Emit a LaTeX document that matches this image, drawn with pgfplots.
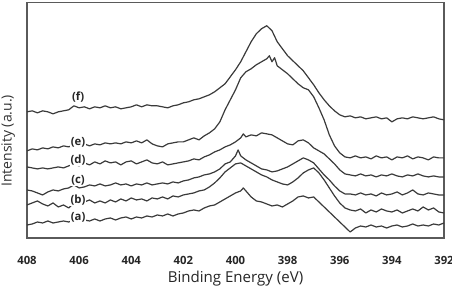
\documentclass[border=0pt]{standalone}
\usepackage{fontspec}
\setmainfont{Open Sans}
\usepackage{pgfplots}
\pgfplotsset{compat=1.18}
\definecolor{curve}{HTML}{3A3A3A}
\definecolor{frame}{HTML}{5A5A5A}
\begin{document}
\begin{tikzpicture}[spec/.style={curve, line width=0.9pt, line join=round, solid, mark=none}]
\begin{axis}[
  at={(0,0)}, anchor=south west,
  scale only axis, width=312.75pt, height=176.25pt,
  x dir=reverse, xmin=392, xmax=408, ymin=0, ymax=235,
  xtick={392,394,...,408}, ytick=\empty,
  major tick length=0pt,
  axis line style={frame, line width=1pt},
  /pgf/number format/assume math mode=true,
  /pgf/number format/1000 sep={},
  xticklabel style={font=\bfseries\fontsize{8.5}{10}\selectfont, anchor=center, yshift=-16.5pt, text=black!85},
  xlabel={Binding Energy (eV)},
  xlabel style={at={(axis description cs:0.5,-0.1872)}, anchor=base, font=\fontsize{11.3}{13}\selectfont, text=black!85},
  ylabel={Intensity (a.u.)},
  ylabel style={at={(axis description cs:-0.037,0.413)}, anchor=base, font=\fontsize{10.5}{12}\selectfont, text=black!80},
  clip=false,
]
% (f)
\addplot[spec] coordinates {(408,126)(407.8,127)(407.6,125)(407.4,127)(407.2,126)(407.0,124)(406.8,126)(406.6,127)(406.4,128)(406.2,132)(406.0,130)(405.8,131)(405.6,129)(405.4,131)(405.2,130)(405.0,132)(404.8,130)(404.6,131)(404.4,129)(404.2,130)(404.0,131)(403.8,133)(403.6,131)(403.4,133)(403.2,132)(403.0,132)(402.8,131)(402.6,130)(402.4,132)(402.2,133)(402.0,135)(401.8,136)(401.6,138)(401.4,139)(401.2,141)(401.0,143)(400.8,146)(400.6,150)(400.4,154)(400.2,161)(400.0,168)(399.8,176)(399.6,186)(399.4,196)(399.2,204)(399.0,209)(398.8,212)(398.6,207)(398.4,196)(398.2,189)(398.0,182)(397.8,177)(397.6,172)(397.4,167)(397.2,160)(397.0,153)(396.8,145)(396.6,138)(396.4,132)(396.2,127)(396.0,123)(395.8,121)(395.6,122)(395.4,120)(395.2,121)(395.0,119)(394.8,120)(394.6,121)(394.4,119)(394.2,120)(394.0,116)(393.8,119)(393.6,120)(393.4,119)(393.2,121)(393.0,120)(392.8,119)(392.6,120)(392.4,121)(392.2,119)(392.0,118)};
% (e)
\addplot[spec] coordinates {(408,87)(407.8,89)(407.6,88)(407.4,90)(407.2,89)(407.0,91)(406.8,90)(406.6,92)(406.4,91)(406.2,93)(406.0,92)(405.8,94)(405.6,92)(405.4,94)(405.2,93)(405.0,95)(404.8,94)(404.6,95)(404.4,94)(404.2,96)(404.0,95)(403.8,97)(403.6,95)(403.4,98)(403.2,94)(403.0,92)(402.8,91)(402.6,94)(402.4,95)(402.2,96)(402.0,96)(401.8,98)(401.6,100)(401.4,98)(401.2,102)(401.0,105)(400.8,109)(400.6,116)(400.4,128)(400.2,138)(400.0,148)(399.8,160)(399.6,166)(399.4,169)(399.2,173)(399.0,176)(398.8,179)(398.7,182)(398.6,176)(398.5,180)(398.4,172)(398.2,168)(398.0,164)(397.8,159)(397.6,154)(397.4,150)(397.2,148)(397.0,141)(396.8,130)(396.6,118)(396.4,103)(396.2,92)(396.0,85)(395.8,81)(395.6,80)(395.4,82)(395.2,80)(395.0,81)(394.8,79)(394.6,82)(394.4,80)(394.2,81)(394.0,78)(393.8,81)(393.6,80)(393.4,82)(393.2,79)(393.0,81)(392.8,80)(392.6,78)(392.4,81)(392.2,80)(392.0,80)};
% (d)
\addplot[spec] coordinates {(408,71)(407.8,70)(407.6,69)(407.4,70)(407.2,69)(407.0,70)(406.8,71)(406.6,70)(406.4,72)(406.2,74)(406.0,72)(405.8,75)(405.6,73)(405.4,76)(405.2,74)(405.0,77)(404.8,75)(404.6,76)(404.4,73)(404.2,76)(404.0,77)(403.8,74)(403.6,76)(403.4,78)(403.2,75)(403.0,74)(402.8,76)(402.6,73)(402.4,74)(402.2,75)(402.0,76)(401.8,77)(401.6,79)(401.4,78)(401.2,81)(401.0,83)(400.8,86)(400.6,88)(400.4,91)(400.2,93)(400.0,96)(399.8,100)(399.7,104)(399.6,101)(399.4,103)(399.2,102)(399.0,105)(398.8,104)(398.6,103)(398.4,100)(398.2,97)(398.0,94)(397.8,93)(397.6,97)(397.4,98)(397.2,95)(397.0,90)(396.8,87)(396.6,84)(396.4,79)(396.2,74)(396.0,68)(395.8,64)(395.6,63)(395.4,62)(395.2,64)(395.0,62)(394.8,63)(394.6,61)(394.4,63)(394.2,62)(394.0,64)(393.8,62)(393.6,61)(393.4,63)(393.2,62)(393.0,64)(392.8,62)(392.6,61)(392.4,62)(392.2,61)(392.0,61)};
% (c)
\addplot[spec] coordinates {(408,48)(407.8,47)(407.6,45)(407.4,43)(407.2,46)(407.0,48)(406.8,47)(406.6,49)(406.4,50)(406.2,53)(406.0,50)(405.8,51)(405.6,53)(405.4,52)(405.2,54)(405.0,52)(404.8,53)(404.6,55)(404.4,53)(404.2,54)(404.0,52)(403.8,54)(403.6,53)(403.4,55)(403.2,53)(403.0,54)(402.8,55)(402.6,54)(402.4,56)(402.2,55)(402.0,57)(401.8,58)(401.6,60)(401.4,61)(401.2,63)(401.0,64)(400.8,66)(400.6,69)(400.4,74)(400.2,76)(400.0,82)(399.9,88)(399.8,82)(399.6,78)(399.4,75)(399.2,72)(399.0,69)(398.8,68)(398.6,66)(398.4,67)(398.2,69)(398.0,71)(397.8,74)(397.6,77)(397.4,80)(397.2,78)(397.0,75)(396.8,69)(396.6,63)(396.4,58)(396.2,52)(396.0,47)(395.8,44)(395.6,44)(395.4,43)(395.2,45)(395.0,43)(394.8,44)(394.6,42)(394.4,45)(394.2,43)(394.0,44)(393.8,46)(393.6,43)(393.4,45)(393.2,48)(393.0,44)(392.8,43)(392.6,45)(392.4,44)(392.2,43)(392.0,43)};
% (b)
\addplot[spec] coordinates {(408,33)(407.8,35)(407.6,37)(407.4,34)(407.2,32)(407.0,35)(406.8,31)(406.6,33)(406.4,30)(406.2,35)(406.0,33)(405.8,36)(405.6,38)(405.4,35)(405.2,37)(405.0,35)(404.8,38)(404.6,36)(404.4,39)(404.2,37)(404.0,40)(403.8,38)(403.6,39)(403.4,37)(403.2,40)(403.0,39)(402.8,41)(402.6,39)(402.4,42)(402.2,41)(402.0,43)(401.8,44)(401.6,45)(401.4,47)(401.2,48)(401.0,51)(400.8,55)(400.6,60)(400.4,66)(400.2,70)(400.0,74)(399.8,75)(399.6,72)(399.4,69)(399.2,66)(399.0,63)(398.8,61)(398.6,58)(398.4,56)(398.2,54)(398.0,53)(397.8,56)(397.6,60)(397.4,65)(397.2,68)(397.0,70)(396.8,65)(396.6,58)(396.4,50)(396.2,42)(396.0,35)(395.8,30)(395.6,28)(395.4,27)(395.2,29)(395.0,25)(394.8,28)(394.6,26)(394.4,29)(394.2,27)(394.0,26)(393.8,28)(393.6,25)(393.4,27)(393.2,29)(393.0,27)(392.8,31)(392.6,28)(392.4,30)(392.2,26)(392.0,25)};
% (a)
\addplot[spec] coordinates {(408,13)(407.8,14)(407.6,16)(407.4,15)(407.2,17)(407.0,15)(406.8,16)(406.6,17)(406.4,16)(406.2,18)(406.0,16)(405.8,18)(405.6,17)(405.4,19)(405.2,17)(405.0,19)(404.8,20)(404.6,18)(404.4,20)(404.2,21)(404.0,19)(403.8,21)(403.6,20)(403.4,22)(403.2,21)(403.0,23)(402.8,22)(402.6,24)(402.4,22)(402.2,24)(402.0,25)(401.8,27)(401.6,28)(401.4,27)(401.2,30)(401.0,32)(400.8,33)(400.6,36)(400.4,39)(400.2,42)(400.0,45)(399.8,47)(399.7,50)(399.6,47)(399.4,41)(399.2,37)(399.0,36)(398.8,34)(398.6,32)(398.4,33)(398.2,31)(398.0,34)(397.8,37)(397.6,41)(397.4,42)(397.2,40)(397.0,41)(396.8,36)(396.6,31)(396.4,26)(396.2,21)(396.0,16)(395.8,11)(395.6,6)(395.4,10)(395.2,12)(395.0,11)(394.8,13)(394.6,11)(394.4,12)(394.2,10)(394.0,12)(393.8,13)(393.6,11)(393.4,12)(393.2,14)(393.0,12)(392.8,13)(392.6,12)(392.4,14)(392.2,13)(392.0,15)};
\begin{scope}[every node/.style={font=\bfseries\fontsize{8.5}{10}\selectfont, text=black!85, fill=white, inner sep=0.5pt}]
\node at (axis cs:406.04,141) {(f)};
\node at (axis cs:406.04,96) {(e)};
\node at (axis cs:406.04,78) {(d)};
\node at (axis cs:406.04,58) {(c)};
\node at (axis cs:406.04,38) {(b)};
\node at (axis cs:406.04,21) {(a)};
\end{scope}
\end{axis}
\pgfresetboundingbox
\useasboundingbox (-20.25pt,-36.75pt) rectangle (318.75pt,178.5pt);
\end{tikzpicture}
\end{document}
